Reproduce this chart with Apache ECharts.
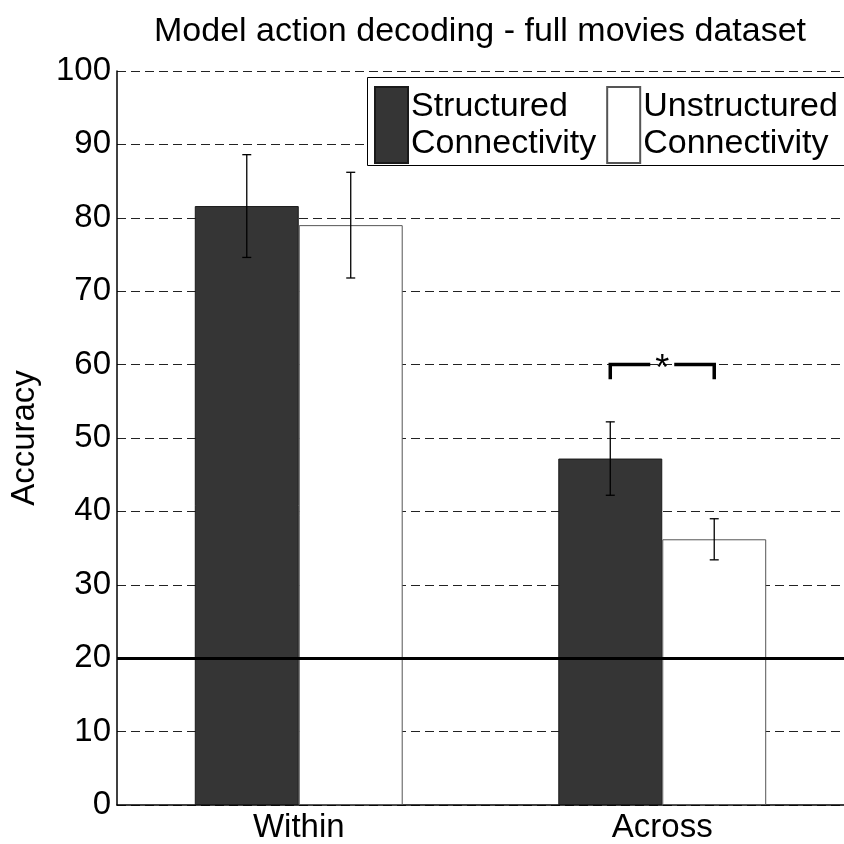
<!DOCTYPE html>
<html>
<head>
<meta charset="utf-8">
<script src="https://cdn.jsdelivr.net/npm/echarts@6/dist/echarts.min.js"></script>
<style>
  html, body { margin: 0; padding: 0; background: #fff; }
  #chart { width: 844px; height: 844px; }
</style>
</head>
<body>
<div id="chart"></div>
<script>
// Decoding accuracy (%) for the two connectivity models
const categories = ['Within', 'Across'];
const seriesNames = ['Structured\nConnectivity', 'Unstructured\nConnectivity'];
const structuredMean = [81.6, 47.2];
const structuredErr = [7.0, 5.0];
const unstructuredMean = [79.0, 36.2];
const unstructuredErr = [7.2, 2.8];
const chanceLevel = 20;
const yTicks = [0, 10, 20, 30, 40, 50, 60, 70, 80, 90, 100];
// significance bracket over the "Across" pair: [category, bar level, leg end, mark]
const significance = [[1, 60, 58, '*']];

const FONT = 'Liberation Sans';
const BAR_FRAC = 0.286; // bar width as a fraction of the category band

const errorData = [];
structuredMean.forEach((m, i) => errorData.push([i, m - structuredErr[i], m + structuredErr[i], 0]));
unstructuredMean.forEach((m, i) => errorData.push([i, m - unstructuredErr[i], m + unstructuredErr[i], 1]));

const chart = echarts.init(document.getElementById('chart'), null, { renderer: 'canvas' });

chart.setOption({
  animation: false,
  backgroundColor: '#fff',
  textStyle: { fontFamily: FONT },
  title: {
    text: 'Model action decoding - full movies dataset',
    left: 149, top: 10,
    textStyle: { fontFamily: FONT, fontSize: 34, fontWeight: 'normal', color: '#000' }
  },
  // legend frame runs past the right edge of the figure
  graphic: [{
    type: 'rect',
    z: 90,
    shape: { x: 367.5, y: 77.5, width: 520, height: 88 },
    style: { fill: '#fff', stroke: '#000', lineWidth: 1 }
  }],
  legend: {
    left: 368, top: 78,
    z: 100,
    orient: 'horizontal',
    icon: 'rect',
    itemWidth: 33, itemHeight: 76,
    itemGap: 10,
    padding: [8, 0, 3, 6],
    selectedMode: false,
    textStyle: { fontFamily: FONT, fontSize: 34, color: '#000', lineHeight: 37, padding: [0, 0, 0, -2] },
    data: seriesNames
  },
  grid: { left: 113, top: 71, width: 740, bottom: 34, containLabel: false },
  xAxis: {
    type: 'category',
    data: categories,
    axisLine: { lineStyle: { color: '#000', width: 1.5 } },
    axisTick: { show: false },
    axisLabel: { fontFamily: FONT, fontSize: 33, color: '#000', margin: 6 },
    splitLine: { show: false }
  },
  yAxis: {
    type: 'value',
    min: 0, max: 100, interval: 10,
    name: 'Accuracy',
    nameLocation: 'middle',
    nameGap: 76,
    nameTextStyle: { fontFamily: FONT, fontSize: 33, color: '#000' },
    axisLine: { show: true, lineStyle: { color: '#000', width: 1.5 } },
    axisTick: { show: false },
    axisLabel: {
      fontFamily: FONT, fontSize: 33, color: '#000', margin: 6,
      formatter: v => (yTicks.indexOf(v) >= 0 ? String(v) : '')
    },
    splitLine: { show: true, lineStyle: { color: '#222', width: 1.2, type: [9, 5] } }
  },
  series: [
    {
      name: seriesNames[0],
      type: 'bar',
      data: structuredMean,
      barWidth: (BAR_FRAC * 100) + '%',
      barGap: '0%',
      itemStyle: { color: '#353535', borderColor: '#1a1a1a', borderWidth: 1 },
      markLine: {
        silent: true,
        symbol: 'none',
        label: { show: false },
        lineStyle: { color: '#000', width: 3, type: 'solid' },
        data: [{ yAxis: chanceLevel }]
      },
      z: 2
    },
    {
      name: seriesNames[1],
      type: 'bar',
      data: unstructuredMean,
      barWidth: (BAR_FRAC * 100) + '%',
      barGap: '0%',
      itemStyle: { color: '#ffffff', borderColor: '#555', borderWidth: 1 },
      z: 2
    },
    {
      // error bars centred on each bar
      type: 'custom',
      data: errorData,
      z: 5,
      renderItem: function (params, api) {
        const cat = api.value(0);
        const lo = api.coord([cat, api.value(1)]);
        const hi = api.coord([cat, api.value(2)]);
        const band = api.size([1, 0])[0];
        const off = (api.value(3) === 0 ? -1 : 1) * band * BAR_FRAC / 2;
        const x = lo[0] + off;
        const cap = 4.5;
        const st = { stroke: '#000', lineWidth: 1.3 };
        return {
          type: 'group',
          children: [
            { type: 'line', shape: { x1: x, y1: lo[1], x2: x, y2: hi[1] }, style: st },
            { type: 'line', shape: { x1: x - cap, y1: lo[1], x2: x + cap, y2: lo[1] }, style: st },
            { type: 'line', shape: { x1: x - cap, y1: hi[1], x2: x + cap, y2: hi[1] }, style: st }
          ]
        };
      }
    },
    {
      // significance bracket with its mark
      type: 'custom',
      data: significance,
      z: 6,
      renderItem: function (params, api) {
        const cat = api.value(0);
        const top = api.coord([cat, api.value(1)]);
        const leg = api.coord([cat, api.value(2)]);
        const band = api.size([1, 0])[0];
        const half = band * BAR_FRAC / 2;
        const xl = top[0] - half, xr = top[0] + half;
        const gap = 12;
        const st = { stroke: '#000', lineWidth: 3.5, fill: null, lineJoin: 'miter' };
        return {
          type: 'group',
          children: [
            { type: 'polyline', shape: { points: [[xl, leg[1]], [xl, top[1]], [top[0] - gap, top[1]]] }, style: st },
            { type: 'polyline', shape: { points: [[top[0] + gap, top[1]], [xr, top[1]], [xr, leg[1]]] }, style: st },
            {
              type: 'text',
              style: {
                x: top[0], y: top[1] + 5,
                text: api.value(3),
                fontFamily: FONT, fontSize: 36, fill: '#000',
                align: 'center', verticalAlign: 'middle'
              }
            }
          ]
        };
      }
    }
  ]
});
</script>
</body>
</html>
